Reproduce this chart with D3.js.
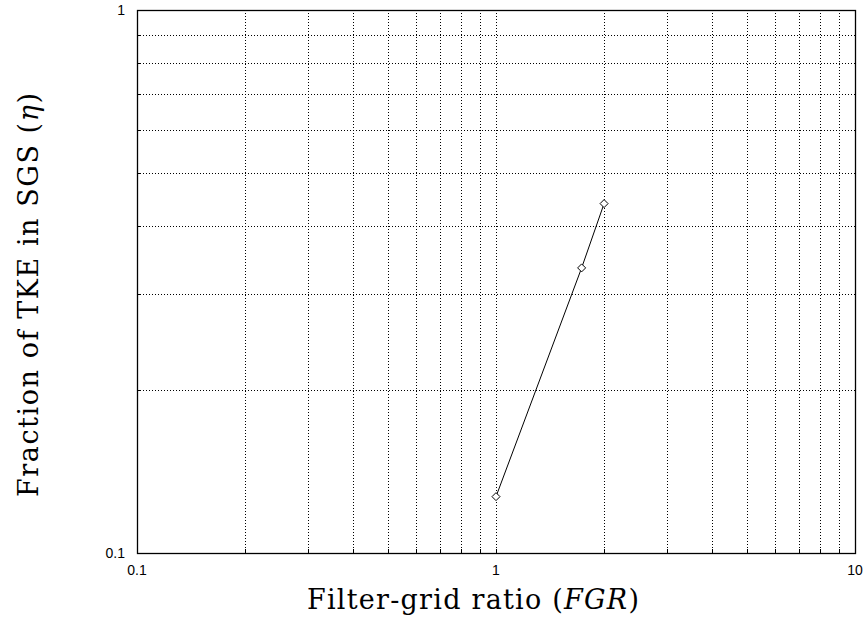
<!DOCTYPE html>
<html><head><meta charset="utf-8">
<script src="https://cdn.jsdelivr.net/npm/d3@7"></script>
<style>body{margin:0;background:#fff}</style>
</head><body><svg id="c" width="866" height="627"></svg>
<script>
const fgr = [1, 1.732, 2];
const eta = [0.127, 0.335, 0.44];
const xTickVals = [0.1, 1, 10];
const xTickLabels = ["0.1", "1", "10"];
const yTickVals = [0.1, 1];
const yTickLabels = ["0.1", "1"];

const svg = d3.select("#c");
const L = 137, R = 855, T = 10, B = 553;
const x = d3.scaleLog().domain([0.1, 10]).range([L, R]);
const y = d3.scaleLog().domain([0.1, 1]).range([B, T]);

const minor = [];
for (const d of [0.1, 1]) for (let k = 2; k <= 9; k++) minor.push(+(d * k).toFixed(4));
const xGrid = minor.concat([1]);
const yGrid = minor.filter(v => v < 1);

const g = svg.append("g");
g.selectAll(".gx").data(xGrid).enter().append("line")
  .attr("x1", d => Math.round(x(d)) + 0.5).attr("x2", d => Math.round(x(d)) + 0.5)
  .attr("y1", T).attr("y2", B)
  .attr("stroke", "#000").attr("stroke-width", 1).attr("stroke-dasharray", "1,2");
g.selectAll(".gy").data(yGrid).enter().append("line")
  .attr("y1", d => Math.round(y(d)) + 0.5).attr("y2", d => Math.round(y(d)) + 0.5)
  .attr("x1", L).attr("x2", R)
  .attr("stroke", "#000").attr("stroke-width", 1).attr("stroke-dasharray", "1,2");

g.selectAll(".tx").data(xGrid).enter().append("line")
  .attr("x1", d => Math.round(x(d)) + 0.5).attr("x2", d => Math.round(x(d)) + 0.5)
  .attr("y1", B).attr("y2", B - 4).attr("stroke", "#000");
g.selectAll(".ty").data(yGrid).enter().append("line")
  .attr("y1", d => Math.round(y(d)) + 0.5).attr("y2", d => Math.round(y(d)) + 0.5)
  .attr("x1", L).attr("x2", L + 4).attr("stroke", "#000");

g.append("rect").attr("x", L + 0.5).attr("y", T + 0.5).attr("width", R - L).attr("height", B - T)
  .attr("fill", "none").attr("stroke", "#000").attr("stroke-width", 1.3);

g.selectAll(".xl").data(xTickVals).enter().append("text")
  .attr("x", d => x(d)).attr("y", B + 22)
  .attr("text-anchor", "middle").attr("font-family", "'Liberation Sans', Arial, sans-serif")
  .attr("font-size", 14).text((d, i) => xTickLabels[i]);
g.selectAll(".yl").data(yTickVals).enter().append("text")
  .attr("x", L - 12).attr("y", d => y(d) + 5)
  .attr("text-anchor", "end").attr("font-family", "'Liberation Sans', Arial, sans-serif")
  .attr("font-size", 14).text((d, i) => yTickLabels[i]);

const titleFont = "'DejaVu Serif', serif";
const xt = svg.append("text").attr("x", 307).attr("y", 609)
  .attr("text-anchor", "start").attr("font-family", titleFont)
  .attr("font-size", 27).attr("textLength", 332).attr("lengthAdjust", "spacing");
xt.append("tspan").text("Filter-grid ratio (");
xt.append("tspan").attr("font-style", "italic").text("FGR");
xt.append("tspan").text(")");

const yt = svg.append("text").attr("transform", "translate(38,497) rotate(-90)")
  .attr("text-anchor", "start").attr("font-family", titleFont)
  .attr("font-size", 27).attr("textLength", 404).attr("lengthAdjust", "spacing");
yt.append("tspan").text("Fraction of TKE in SGS (");
yt.append("tspan").attr("font-style", "italic").text("η");
yt.append("tspan").text(")");

const pts = fgr.map((v, i) => [v, eta[i]]);
svg.append("path").datum(pts)
  .attr("d", d3.line().x(d => x(d[0])).y(d => y(d[1])))
  .attr("fill", "none").attr("stroke", "#000").attr("stroke-width", 1);
svg.selectAll(".m").data(pts).enter().append("path")
  .attr("transform", d => `translate(${x(d[0])},${y(d[1])})`)
  .attr("d", "M0,-4L4,0L0,4L-4,0Z")
  .attr("fill", "#fff").attr("stroke", "#000").attr("stroke-width", 1);
</script></body></html>
